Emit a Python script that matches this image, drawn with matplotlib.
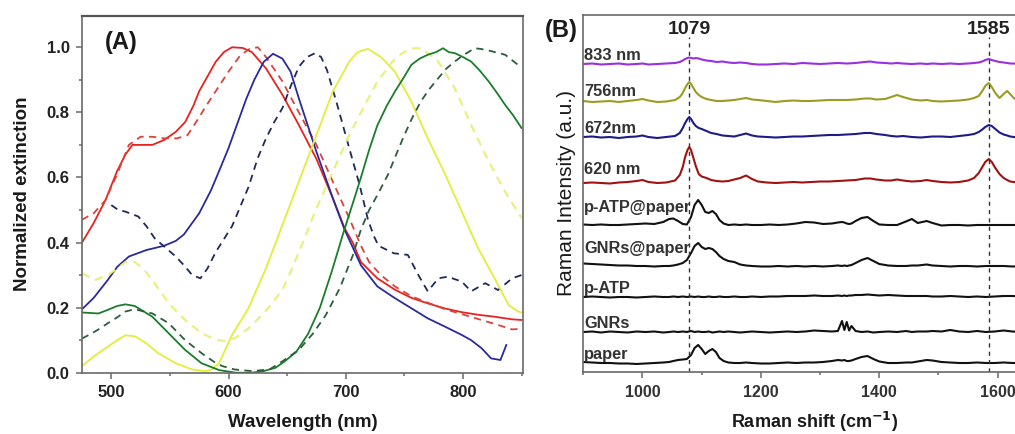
import matplotlib
matplotlib.use("Agg")
import matplotlib.pyplot as plt
from matplotlib.ticker import MultipleLocator, FormatStrFormatter

plt.rcParams['font.family'] = ['Liberation Sans', 'DejaVu Sans']

# ---------------- Panel A: normalized extinction spectra ----------------
red_solid_x = [475, 485, 495, 505, 512, 518, 525, 535, 545, 555, 563, 570, 575, 582, 589, 596, 603,
               612, 620, 632, 646, 660, 675, 689, 699, 706, 713, 727, 742, 756, 770, 785, 799, 813,
               827, 842, 850]
red_solid_y = [0.40, 0.46, 0.53, 0.62, 0.67, 0.70, 0.70, 0.70, 0.715, 0.74, 0.77, 0.82, 0.865, 0.91,
               0.955, 0.985, 1.0, 0.998, 0.985, 0.935, 0.854, 0.761, 0.657, 0.536, 0.444, 0.40, 0.34,
               0.29, 0.255, 0.23, 0.213, 0.197, 0.186, 0.178, 0.172, 0.164, 0.162]

red_dash_x = [475, 485, 495, 505, 515, 525, 535, 545, 556, 565, 575, 580, 590, 600, 610, 618, 625,
              632, 646, 660, 675, 689, 703, 713, 720, 730, 742, 756, 770, 785, 799, 813, 827, 842, 850]
red_dash_y = [0.47, 0.49, 0.53, 0.61, 0.70, 0.725, 0.725, 0.72, 0.72, 0.73, 0.785, 0.815, 0.87, 0.925,
              0.975, 0.995, 1.0, 0.97, 0.895, 0.80, 0.70, 0.587, 0.475, 0.39, 0.34, 0.30, 0.265, 0.235,
              0.215, 0.195, 0.18, 0.165, 0.15, 0.133, 0.135]

blue_solid_x = [475, 485, 497, 505, 515, 530, 545, 555, 562, 575, 585, 592, 600, 608, 615, 622, 630,
                638, 646, 653, 660, 675, 689, 699, 713, 727, 742, 756, 770, 785, 799, 807, 816, 824,
                832, 837]
blue_solid_y = [0.195, 0.23, 0.285, 0.325, 0.357, 0.377, 0.39, 0.405, 0.425, 0.49, 0.56, 0.62, 0.69,
                0.77, 0.84, 0.90, 0.955, 0.98, 0.965, 0.925, 0.843, 0.679, 0.536, 0.44, 0.33, 0.265,
                0.229, 0.198, 0.167, 0.141, 0.116, 0.10, 0.075, 0.044, 0.039, 0.085]

navy_dash_x = [500, 506, 512, 523, 530, 537, 546, 555, 562, 569, 576, 582, 589, 596, 603, 610, 617,
               625, 632, 639, 646, 653, 660, 667, 674, 679, 684, 692, 703, 712, 719, 724, 728, 741,
               753, 762, 770, 779, 787, 799, 807, 819, 830, 842, 850]
navy_dash_y = [0.515, 0.50, 0.495, 0.48, 0.45, 0.413, 0.385, 0.357, 0.33, 0.30, 0.29, 0.32, 0.37,
               0.41, 0.45, 0.51, 0.57, 0.66, 0.72, 0.77, 0.813, 0.88, 0.94, 0.97, 0.982, 0.97, 0.93,
               0.833, 0.69, 0.575, 0.47, 0.42, 0.39, 0.367, 0.362, 0.30, 0.25, 0.29, 0.295, 0.28,
               0.25, 0.275, 0.254, 0.29, 0.30]

yellow_solid_x = [475, 485, 497, 505, 512, 520, 530, 540, 555, 569, 580, 586, 592, 603, 617, 632, 646,
                  660, 675, 689, 703, 710, 719, 730, 742, 756, 770, 785, 799, 813, 827, 839, 847, 850]
yellow_solid_y = [0.02, 0.05, 0.08, 0.10, 0.115, 0.112, 0.09, 0.06, 0.029, 0.01, 0.005, 0.01, 0.03,
                  0.116, 0.198, 0.321, 0.454, 0.587, 0.73, 0.864, 0.956, 0.985, 0.995, 0.97, 0.925,
                  0.833, 0.72, 0.608, 0.495, 0.382, 0.29, 0.208, 0.188, 0.185]

yellow_dash_x = [475, 486, 497, 505, 512, 520, 527, 535, 549, 563, 577, 590, 597, 605, 617, 632, 646,
                 653, 660, 675, 689, 703, 713, 727, 742, 752, 756, 765, 779, 793, 807, 822, 836, 850]
yellow_dash_y = [0.306, 0.285, 0.30, 0.32, 0.34, 0.34, 0.32, 0.285, 0.213, 0.162, 0.121, 0.10, 0.098,
                 0.105, 0.136, 0.19, 0.255, 0.31, 0.37, 0.505, 0.618, 0.73, 0.80, 0.895, 0.966, 0.99,
                 0.997, 0.997, 0.956, 0.874, 0.761, 0.649, 0.556, 0.475]

green_solid_x = [475, 489, 497, 505, 512, 520, 535, 549, 563, 577, 592, 606, 620, 630, 640, 648, 658,
                 668, 678, 688, 698, 706, 713, 720, 727, 735, 742, 750, 756, 763, 770, 777, 783, 788,
                 793, 800, 807, 814, 822, 829, 836, 843, 850]
green_solid_y = [0.185, 0.182, 0.193, 0.205, 0.21, 0.205, 0.172, 0.121, 0.07, 0.029, 0.008, 0.0, 0.0,
                 0.005, 0.015, 0.035, 0.065, 0.12, 0.20, 0.31, 0.43, 0.52, 0.60, 0.685, 0.76, 0.82,
                 0.864, 0.91, 0.946, 0.965, 0.977, 0.985, 0.997, 0.985, 0.982, 0.97, 0.956, 0.93,
                 0.895, 0.86, 0.823, 0.79, 0.752]

green_dash_x = [475, 483, 490, 497, 505, 512, 520, 535, 549, 563, 577, 589, 595, 605, 620, 635, 646,
                660, 672, 683, 695, 706, 713, 720, 727, 736, 743, 750, 757, 764, 771, 779, 786, 793,
                800, 810, 815, 822, 836, 847, 850]
green_dash_y = [0.105, 0.12, 0.135, 0.152, 0.17, 0.188, 0.195, 0.182, 0.152, 0.10, 0.06, 0.03, 0.02,
                0.01, 0.005, 0.01, 0.035, 0.07, 0.12, 0.177, 0.26, 0.36, 0.44, 0.50, 0.546, 0.608,
                0.67, 0.73, 0.785, 0.833, 0.87, 0.905, 0.935, 0.956, 0.975, 0.997, 0.995, 0.99,
                0.977, 0.946, 0.94]

wl_ticks = [500, 600, 700, 800]

# ---------------- Panel B: stacked Raman spectra ----------------
laser_x = [900, 915, 930, 945, 960, 975, 990,
           1000, 1010, 1025, 1040, 1055,
           1063, 1068, 1072, 1076, 1079, 1082, 1086, 1090, 1095, 1100,
           1108, 1116, 1125, 1135, 1145, 1155, 1165, 1175, 1185, 1195,
           1210, 1225, 1240, 1255, 1270, 1285, 1300, 1315, 1330, 1345, 1360, 1375,
           1385, 1395, 1410, 1420, 1430, 1440, 1455, 1470, 1480, 1490,
           1505, 1520, 1535, 1550, 1560,
           1568, 1574, 1579, 1585, 1590, 1596, 1603, 1610, 1616, 1621, 1627, 1633, 1640]

r833 = [0, 0.5, -0.5, 0, 0.5, -0.5, 0,
        0.5, -0.5, 0, 0.5, 1,
        2, 3.5, 5, 6, 6.5, 6, 5.5, 6, 5.5, 4.5,
        3.5, 3, 2, 2.5, 1.5, 1, 1.5, 1, 0, -0.5,
        -0.5, 0, 0.5, 0, 1, 0.5, 0, 0.5, 1, 0.5, 1, 2,
        2.5, 1.5, 1, 0.5, 1, 0.5, 0, 0.5, 0, 0.5,
        0, 0.5, 0, 0.5, 1,
        1.5, 2.5, 4, 5, 4, 3, 2, 1.5, 1, 0.5, 0.5, 0, 0]

r756 = [0, -1, -0.5, 0, -1, 0, 1,
        2, 0.5, -1, -0.5, 1,
        4, 8, 13, 17, 19, 17, 13, 9, 6, 4,
        2, 1, 0, 0, 0.5, 1, 2, 3, 1.5, 1,
        0, -1, 0, 0.5, 0, 0, 0.5, 1, 1, 1, 1.5, 2.5,
        2.5, 1.5, 2, 4, 6, 4, 1.5, 0.5, 1, 0,
        -0.5, 0, 0.5, 1.5, 3,
        5, 10, 15, 18, 14, 8, 3, 7, 10, 7, 3, 1, 0]

r672 = [0, 0.5, -0.5, 0, -1, 0, 0.5,
        1.5, 0, -1, 0, 1,
        4, 9, 14, 18, 20, 18, 14, 11, 9, 8,
        6, 4, 3, 1.5, 1, 0.5, 2, 3.5, 1.5, 0.5,
        0, -0.5, 0, 0.5, 0.5, 1, 1.5, 2, 2, 2.5, 3, 4,
        4, 3, 2, 1, 0.5, 1, 0, -0.5, 0, 0.5,
        0.5, 0, 1, 2, 3,
        5, 7.5, 10, 12, 11, 8, 4.5, 2.5, 1.5, 0.5, 0, -0.5, 0]

r620 = [0, 0.5, 0, -0.5, 0.5, 1, 2,
        3, 1, 0, 0.5, 2.5,
        8, 16, 26, 33, 36, 33, 25, 17, 9, 6.5,
        5, 3, 2, 1.5, 2, 3.5, 5, 7.5, 4, 1.5,
        0.5, 0, 0.5, 1, 0.5, 1, 1.5, 1.5, 2, 2.5, 3, 4.5,
        4.5, 3.5, 2.5, 2.5, 3.5, 2.5, 1.5, 2, 3, 2,
        1, 0.5, 1, 2.5, 5,
        10, 16, 21, 24, 21, 15, 9, 5, 3, 1.5, 1, 0.5, 0.5]

ref_x = [900, 915, 930, 945, 960, 975, 990,
         1005, 1020, 1035, 1045, 1052, 1060, 1068, 1075,
         1082, 1088, 1094, 1100, 1106, 1112, 1118, 1124, 1130, 1137,
         1145, 1155, 1165, 1175, 1185, 1200, 1215, 1230, 1245, 1260,
         1275, 1290, 1305, 1320, 1330, 1337, 1341, 1345, 1349, 1353,
         1360, 1370, 1380, 1390, 1400, 1415, 1430, 1445, 1455, 1465,
         1480, 1490, 1505, 1520, 1535, 1550, 1565, 1580, 1595, 1610, 1625, 1640]

r_patp_paper = [0.5, 0, 0.5, 0, 0, 0.5, 1,
                1.5, 1, 3, 6, 6.5, 4, 1, 0.5,
                8, 20, 25, 20, 13, 12, 14, 11, 5, 1.5,
                0, 0.5, 0, 0.5, 0, 0, 0.5, 0, 0.5, 1.5,
                3, 2.5, 1, 1.5, 2.5, 3, 2.5, 1.5, 1, 1.5,
                4, 7, 8, 4, 0.5, 0, 0, 3.5, 6, 2,
                4, 2, -0.5, 0, 0, -0.5, 0, 0, 0, 0, 0, 0]

r_gnrs_paper = [2.5, 2, 1.5, 1, 0.5, 0.5, 0,
                0, -0.5, 0, 0, 0.5, 1.5, 3, 6,
                13, 20, 23, 19, 17, 18, 17, 14, 10, 7,
                5, 4, 1.5, 0.5, 0, -0.5, -0.5, 0, -0.5, 0,
                -0.5, 0, -0.5, 0, 0.5, 0, 0.5, 0, 0.5, 1,
                3, 6, 8, 5, 2, 0.5, 0, 0, 0.5, 0.5,
                1.5, 0.5, 0, -0.5, 0, 0, -0.5, 0, 0, 0, -0.5, 0]

r_patp = [0, 0.5, 0, -0.5, 0, 0, -0.5,
          0, 0.5, 0, 0, 0.5, 0, 0.5, 0,
          0.5, 0, 0.5, 0, 0, 0.5, 0, 0, 0.5, 0,
          0, 0.5, 0, 0, 0.5, 0, 0.5, 0.5, 1, 1,
          1, 1.5, 1, 1, 1.5, 1, 1.5, 1, 1.5, 1.5,
          2, 2, 2.5, 2, 1.5, 2, 1.5, 1, 1, 1,
          1, 0.5, 0.5, 1, 0.5, 0, 0.5, 0, 0.5, 1, 1, 0.5]

r_gnrs = [0, 0.5, -0.5, 0.5, 0, -0.5, 0.5,
          0, 0.5, -0.5, 0, 0.5, 0, 0.5, 0,
          1, 0, 0.5, 0, 0, 0.5, -0.5, 0, 0.5, 0,
          0.5, 0, -0.5, 0, 0.5, 0, -0.5, 0, 0.5, 0,
          0.5, 1.5, 1, 0.5, 1, 11, 2, 10, 1.5, 6,
          1, 0, 0.5, -0.5, 0, 0.5, 0, 1, 0, 0.5,
          0.5, 1, 0.5, 2, 0.5, 0, 1, 0, 0.5, 1.5, 0.5, 0]

r_paper = [1, 0.5, 0, 0, -0.5, -0.5, -1,
           -0.5, 0, 0.5, 1, 2, 3, 3.5, 4,
           8, 15, 18, 14, 9, 12, 14, 11, 5, 2,
           0.5, 0, 0, 0.5, 0, -0.5, -0.5, 0, 0.5, 0,
           0.5, 0.5, 1, 2, 3, 2.5, 3, 2, 2, 2.5,
           4, 6, 7, 4, 1.5, 0, 0, 0.5, 0.5, 1.5,
           3, 2.5, 1, 0.5, 0, 0, 0.5, 0, 0, 0.5, 0, 0]

raman_labels = ["833 nm", "756nm", "672nm", "620 nm", "p-ATP@paper", "GNRs@paper",
                "p-ATP", "GNRs", "paper"]
raman_ticks = [1000, 1200, 1400, 1600]
band_positions = [1079, 1585]

# ---------------- figure ----------------
W, H = 1015, 434
fig = plt.figure(figsize=(W / 100, H / 100), dpi=100)


def px_axes(left, top, right, bottom):
    return fig.add_axes([left / W, 1 - bottom / H, (right - left) / W, (bottom - top) / H])


spine_col = '#6a6a6a'
tick_col = '#222222'
dash = (0, (4, 3))

# Panel A
axA = px_axes(82, 15.7, 522.7, 372.7)
axA.plot(red_solid_x, red_solid_y, color='#e8231f', lw=1.3)
axA.plot(red_dash_x, red_dash_y, color='#d9433a', lw=1.3, ls=dash)
axA.plot(blue_solid_x, blue_solid_y, color='#2a2a9a', lw=1.3)
axA.plot(navy_dash_x, navy_dash_y, color='#1e2a58', lw=1.3, ls=dash)
axA.plot(yellow_solid_x, yellow_solid_y, color='#e2ee3a', lw=1.3)
axA.plot(yellow_dash_x, yellow_dash_y, color='#e6f07a', lw=1.5, ls=dash)
axA.plot(green_solid_x, green_solid_y, color='#1a7d2a', lw=1.3)
axA.plot(green_dash_x, green_dash_y, color='#2d5e3c', lw=1.3, ls=dash)
axA.set_xlim(475, 851)
axA.set_ylim(0, 1.097)
axA.xaxis.set_major_locator(plt.FixedLocator(wl_ticks))
axA.xaxis.set_minor_locator(MultipleLocator(50))
axA.yaxis.set_major_locator(MultipleLocator(0.2))
axA.yaxis.set_minor_locator(MultipleLocator(0.1))
axA.yaxis.set_major_formatter(FormatStrFormatter('%.1f'))
axA.tick_params(which='both', direction='out', color=spine_col, width=1.1, top=False, right=False)
axA.tick_params(which='major', length=4.5, labelsize=12, labelcolor=tick_col, pad=4.5)
axA.tick_params(which='minor', length=2.5)
for lab in axA.get_xticklabels() + axA.get_yticklabels():
    lab.set_fontweight('bold')
for s in axA.spines.values():
    s.set_color(spine_col)
    s.set_linewidth(1.2)
axA.spines['top'].set_linewidth(1.6)
axA.spines['top'].set_color('#555555')
axA.set_xlabel('Wavelength (nm)', fontsize=13.5, fontweight='bold', color='#1a1a1a', labelpad=10)
axA.set_ylabel('Normalized extinction', fontsize=13.5, fontweight='bold', color='#1a1a1a',
               labelpad=11)
axA.text(0.052, 0.926, '(A)', transform=axA.transAxes, fontsize=17, fontweight='bold',
         color='#1a1a1a', ha='left', va='center')

# Panel B
bx_left, bx_right = 583.3, 1046.0
px_per_unit = 0.592
axB = px_axes(bx_left, 14.5, bx_right, 372)
stack_base = [308, 271, 235, 189, 147, 106, 75, 40, 9]
traces = [(laser_x, r833, '#9a2fe0'), (laser_x, r756, '#9c9c22'), (laser_x, r672, '#1c1c88'),
          (laser_x, r620, '#a01212'), (ref_x, r_patp_paper, '#111111'),
          (ref_x, r_gnrs_paper, '#111111'), (ref_x, r_patp, '#111111'),
          (ref_x, r_gnrs, '#111111'), (ref_x, r_paper, '#111111')]
label_gap = [9, 9, 8.5, 13, 17, 17, 8, 9, 9]
for (xs, ys, col), base, name, gap in zip(traces, stack_base, raman_labels, label_gap):
    axB.plot(xs, [base + v for v in ys], color=col, lw=1.5)
    axB.text(901, base + gap, name, fontsize=11.8, fontweight='bold', color='#333333',
             ha='left', va='center')
for pos in band_positions:
    axB.plot([pos, pos], [0, 335], color='#333333', lw=1.0, ls=(0, (3, 3)))
    axB.text(pos, 343, str(pos), fontsize=14, fontweight='bold', color='#222222',
             ha='center', va='center')
axB.set_xlim(900, 900 + (bx_right - bx_left) / px_per_unit)
axB.set_ylim(0, 357.5)
axB.xaxis.set_major_locator(plt.FixedLocator(raman_ticks))
axB.xaxis.set_minor_locator(MultipleLocator(100))
axB.set_yticks([])
axB.tick_params(which='both', direction='out', color=spine_col, width=1.1, top=False, right=False)
axB.tick_params(which='major', length=4.5, labelsize=11.5, labelcolor='#333333', pad=5)
axB.tick_params(which='minor', length=2.5)
for lab in axB.get_xticklabels():
    lab.set_fontweight('bold')
for s in axB.spines.values():
    s.set_color(spine_col)
    s.set_linewidth(1.2)
axB.spines['right'].set_visible(False)
axB.set_xlabel('Raman shift (cm$^{\\mathbf{-1}}$)', fontsize=13, fontweight='bold',
               color='#1a1a1a', labelpad=7)
axB.set_ylabel('Raman Intensity (a.u.)', fontsize=15, color='#1a1a1a', labelpad=5)
fig.text(561 / W, 1 - 30 / H, '(B)', fontsize=17, fontweight='bold', color='#1a1a1a',
         ha='center', va='center')

fig.savefig('out.png', dpi=100)
